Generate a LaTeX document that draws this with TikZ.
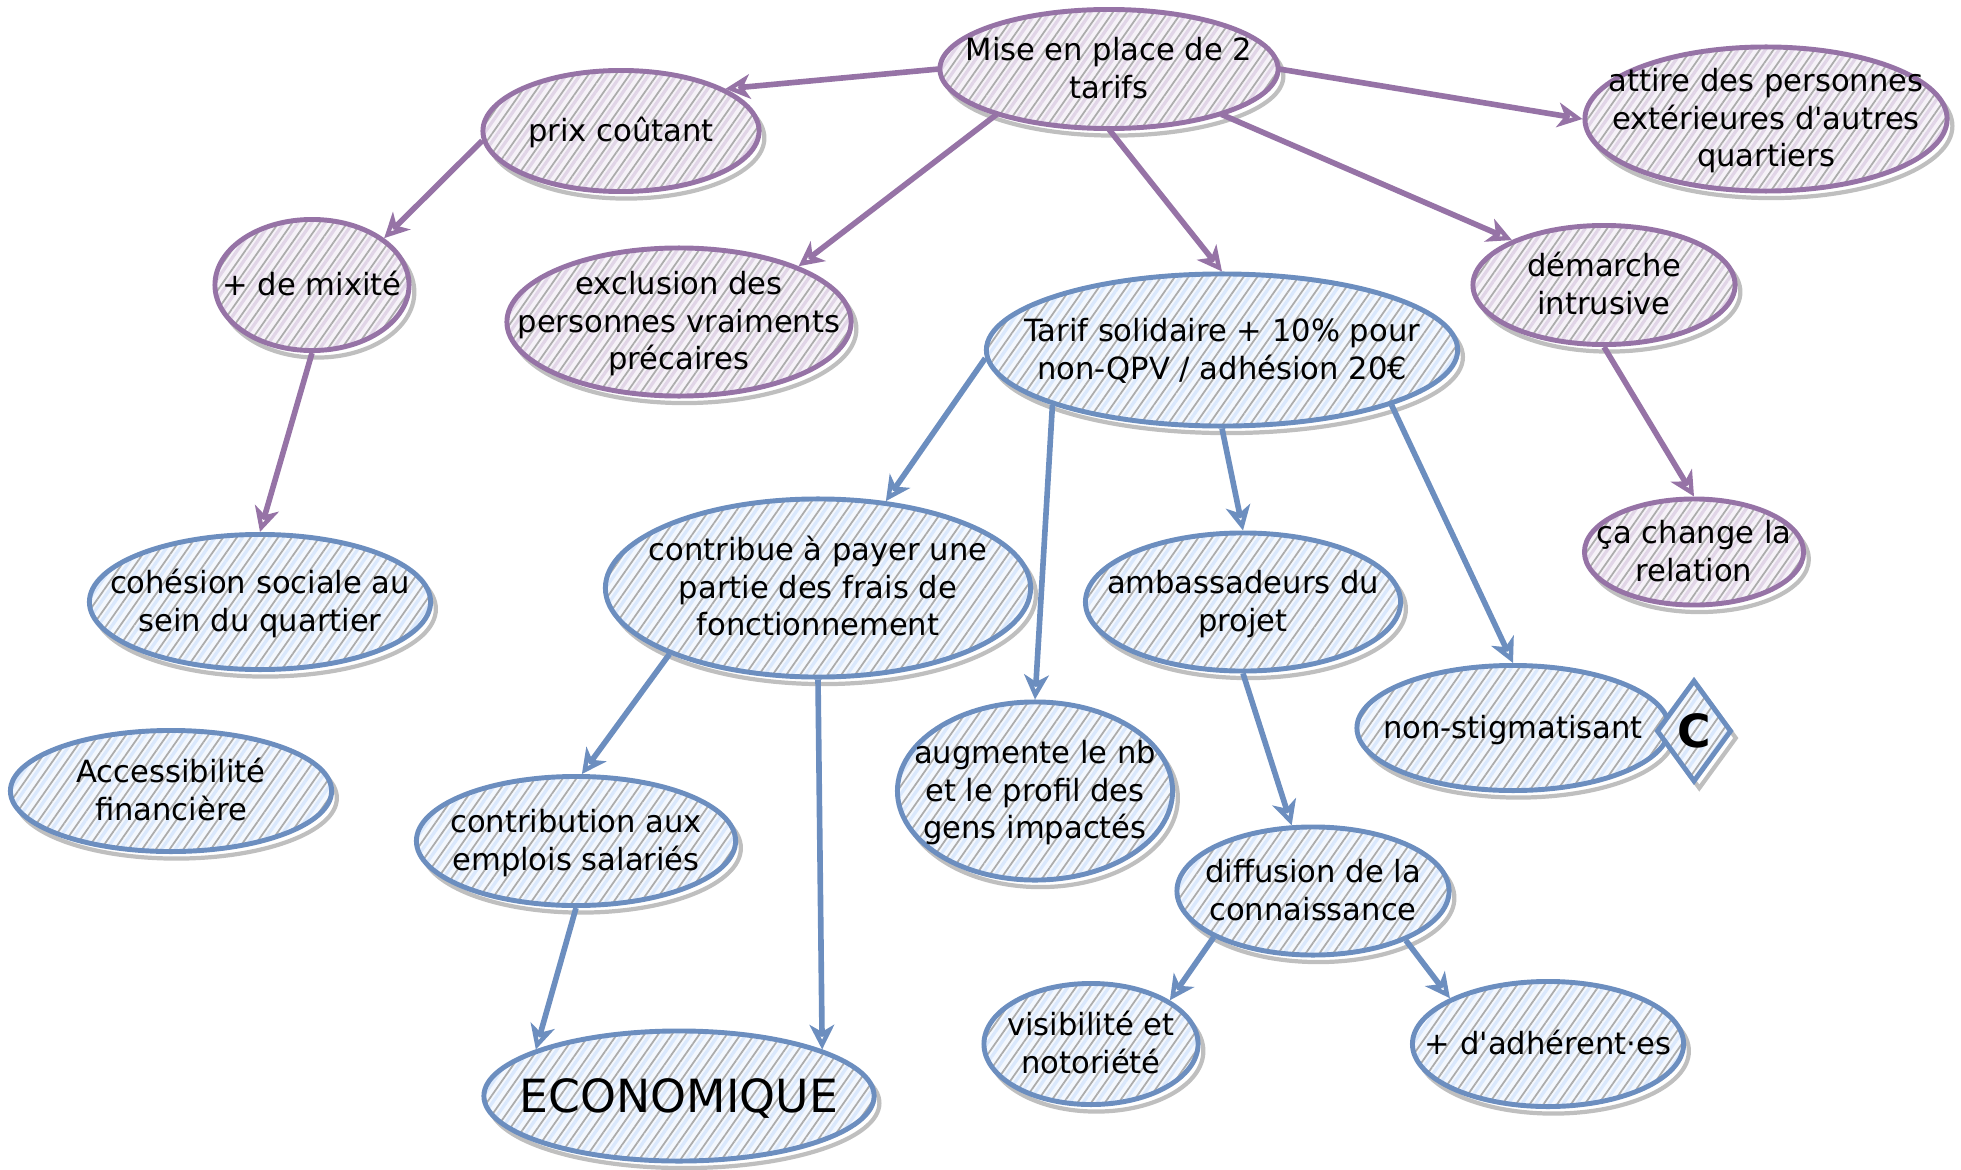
\documentclass[tikz,border=0pt]{standalone}
\usepackage{fontspec}
\newfontfamily\diagfont{DejaVu Sans}
\usetikzlibrary{shapes.geometric,arrows.meta,patterns.meta,shadows}

\definecolor{purpleline}{HTML}{9673A6}
\definecolor{purplefill}{HTML}{E1D5E7}
\definecolor{blueline}{HTML}{6C8EBF}
\definecolor{bluefill}{HTML}{DAE8FC}

% text of a bubble, kept out of the shape size
\newcommand{\bubtext}[1]{\makebox[0pt]{\raisebox{-0.35em}[0pt][0pt]{\begin{tabular}{@{}c@{}}#1\end{tabular}}}}

\begin{document}
\begin{tikzpicture}[x=0.01cm,y=-0.01cm,
  every node/.style={font=\diagfont\fontsize{8.7}{10.7}\selectfont,inner sep=0pt},
  hatch/.style={line width=1.4pt,
    copy shadow={shadow xshift=1.5pt,shadow yshift=-2pt,draw=gray!50,fill=none,line width=1.2pt},
    preaction={fill=#1!30},
    preaction={pattern={Lines[angle=55,distance=3.2pt,xshift=1.6pt,line width=0.9pt]},pattern color=#1},
    pattern={Lines[angle=55,distance=3.2pt,line width=0.5pt]},pattern color=gray!65},
  pbub/.style={ellipse,hatch=purplefill,draw=purpleline},
  bbub/.style={ellipse,hatch=bluefill,draw=blueline},
  parr/.style={draw=purpleline,line width=1.6pt,-{Stealth[open,length=7pt,width=7pt,inset=2pt]}},
  barr/.style={draw=blueline,line width=1.6pt,-{Stealth[open,length=7pt,width=7pt,inset=2pt]}}]

\useasboundingbox (0,0) rectangle (1961,1170);

\node[pbub,minimum width=3.38cm,minimum height=1.19cm](1) at (1109,69) {\bubtext{Mise en place de 2\\tarifs}};
\node[pbub,minimum width=2.76cm,minimum height=1.21cm](2) at (621,131) {\bubtext{prix coûtant}};
\node[pbub,minimum width=3.62cm,minimum height=1.44cm](3) at (1766,119) {\bubtext{attire des personnes\\extérieures d'autres\\quartiers}};
\node[pbub,minimum width=1.94cm,minimum height=1.31cm](4) at (312,285) {\bubtext{+ de mixité}};
\node[pbub,minimum width=3.44cm,minimum height=1.48cm](5) at (679,322) {\bubtext{exclusion des\\personnes vraiments\\précaires}};
\node[bbub,minimum width=4.71cm,minimum height=1.52cm](6) at (1222,350) {\bubtext{Tarif solidaire + 10\% pour\\non-QPV / adhésion 20€}};
\node[pbub,minimum width=2.62cm,minimum height=1.19cm](7) at (1604,285) {\bubtext{démarche\\intrusive}};
\node[pbub,minimum width=2.19cm,minimum height=1.06cm](8) at (1694,552) {\bubtext{ça change la\\relation}};
\node[bbub,minimum width=3.41cm,minimum height=1.35cm](9) at (260,602) {\bubtext{cohésion sociale au\\sein du quartier}};
\node[bbub,minimum width=4.25cm,minimum height=1.78cm](10) at (818,588) {\bubtext{contribue à payer une\\partie des frais de\\fonctionnement}};
\node[bbub,minimum width=3.15cm,minimum height=1.38cm](11) at (1243,602) {\bubtext{ambassadeurs du\\projet}};
\node[bbub,minimum width=3.12cm,minimum height=1.25cm](12) at (1513,728) {\bubtext{non-stigmatisant}};
\node[diamond,hatch=bluefill,draw=blueline,minimum width=0.75cm,minimum height=1.02cm,
  font=\diagfont\bfseries\fontsize{13}{15}\selectfont](13) at (1694,731) {\bubtext{C}};
\node[bbub,minimum width=3.21cm,minimum height=1.21cm](14) at (171,791) {\bubtext{Accessibilité\\financière}};
\node[bbub,minimum width=3.19cm,minimum height=1.29cm](15) at (576,841) {\bubtext{contribution aux\\emplois salariés}};
\node[bbub,minimum width=2.75cm,minimum height=1.78cm](16) at (1035,791) {\bubtext{augmente le nb\\et le profil des\\gens impactés}};
\node[bbub,minimum width=2.72cm,minimum height=1.28cm](17) at (1313,891) {\bubtext{diffusion de la\\connaissance}};
\node[bbub,minimum width=3.90cm,minimum height=1.30cm,font=\diagfont\fontsize{13}{15}\selectfont](18) at (679,1096) {\bubtext{ECONOMIQUE}};
\node[bbub,minimum width=2.14cm,minimum height=1.21cm](19) at (1091,1044) {\bubtext{visibilité et\\notoriété}};
\node[bbub,minimum width=2.71cm,minimum height=1.25cm](20) at (1548,1044) {\bubtext{+ d'adhérent·es}};

\foreach \a/\p/\b/\q in {1/180/2/22,1/202/5/25,1/270/6/90,1/0/3/180,1/338/7/154,2/184/4/33,4/270/9/90,7/270/8/90}{
	\draw[parr](\a.\p)--(\b.\q);
}

\foreach \a/\p/\b/\q in {6/182/10/52,6/198/16/90,6/270/11/90,6/342/12/90,10/204/15/85,10/270/18/18,15/270/18/162,11/270/17/108,17/205/19/29,17/332/20/155}{
	\draw[barr](\a.\p)--(\b.\q);
}

\end{tikzpicture}
\end{document}
